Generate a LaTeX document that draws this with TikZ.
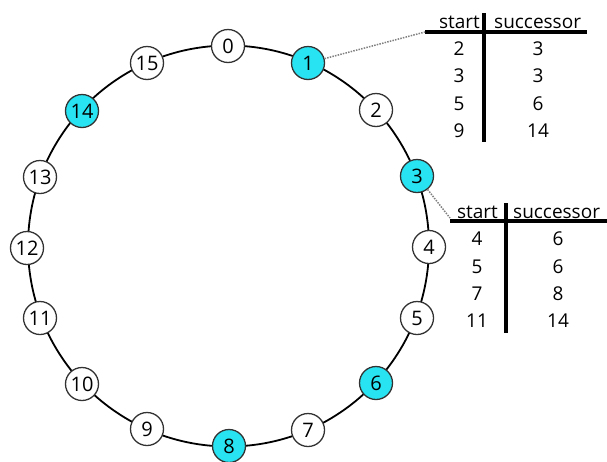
\documentclass[tikz,border=0pt]{standalone}
\usepackage{fontspec}
\setmainfont{Open Sans}
\definecolor{hl}{RGB}{40,228,242}
\definecolor{ndborder}{RGB}{50,50,50}
\begin{document}
\begin{tikzpicture}[x=1pt,y=-1pt,
  ring/.style={line width=1.8pt, black},
  nd/.style={circle, draw=ndborder, line width=1.3pt, fill=white, minimum size=33pt, inner sep=0pt, font=\fontsize{20}{20}\selectfont},
  hlnd/.style={nd, fill=hl},
  tabline/.style={line width=3.5pt, black},
  link/.style={gray, line width=1.5pt, dash pattern=on 1.5pt off 1.2pt},
  tt/.style={inner sep=0pt, font=\fontsize{19}{19}\selectfont}
]
\useasboundingbox (0,0) rectangle (607,461);
\draw[ring] (228.5,246) circle[radius=200.5pt];
\node[nd]   (n0)  at (228,46)  {0};
\node[hlnd] (n1)  at (308,63)  {1};
\node[nd]   (n2)  at (376,110) {2};
\node[hlnd] (n3)  at (417,176) {3};
\node[nd]   (n4)  at (429,247) {4};
\node[nd]   (n5)  at (417,318) {5};
\node[hlnd] (n6)  at (376,383) {6};
\node[nd]   (n7)  at (308,430) {7};
\node[hlnd] (n8)  at (229,446) {8};
\node[nd]   (n9)  at (147,429) {9};
\node[nd]   (n10) at (82,384)  {10};
\node[nd]   (n11) at (40,318)  {11};
\node[nd]   (n12) at (27,248)  {12};
\node[nd]   (n13) at (40,177)  {13};
\node[hlnd] (n14) at (82,111)  {14};
\node[nd]   (n15) at (147,63)  {15};
% table 1
\draw[tabline] (425,32) -- (587,32);
\draw[tabline] (484,13) -- (484,142);
\node[tt, anchor=base east] (h1a) at (480,28) {start};
\node[tt, anchor=base west] (h1b) at (494,28) {successor};
\node[tt] (a1) at (459,49) {2};  \node[tt] (b1) at (538,49) {3};
\node[tt] (a2) at (459,76) {3};  \node[tt] (b2) at (538,76) {3};
\node[tt] (a3) at (459,104) {5}; \node[tt] (b3) at (538,104) {6};
\node[tt] (a4) at (459,131) {9}; \node[tt] (b4) at (538,131) {14};
\coordinate (t1) at (425,32);
\draw[link] (n1) -- (t1);
% table 2
\draw[tabline] (450,221) -- (607,221);
\draw[tabline] (506,203) -- (506,333);
\node[tt, anchor=base east] (h2a) at (498,218) {start};
\node[tt, anchor=base west] (h2b) at (513,218) {successor};
\node[tt] (c1) at (477,239) {4};  \node[tt] (d1) at (558,239) {6};
\node[tt] (c2) at (477,267) {5};  \node[tt] (d2) at (558,267) {6};
\node[tt] (c3) at (477,294) {7};  \node[tt] (d3) at (558,294) {8};
\node[tt] (c4) at (477,321) {11}; \node[tt] (d4) at (558,321) {14};
\coordinate (t2) at (450,218);
\draw[link] (n3) -- (t2);
\end{tikzpicture}
\end{document}
